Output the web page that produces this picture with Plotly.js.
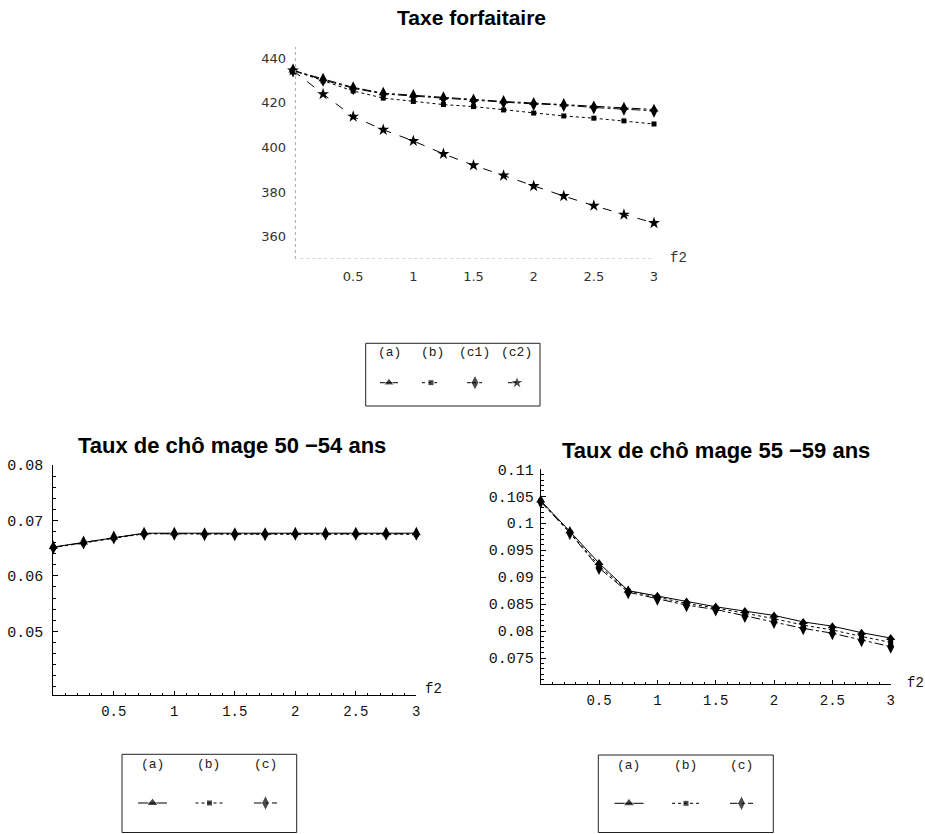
<!DOCTYPE html>
<html>
<head>
<meta charset="utf-8">
<script src="https://cdn.plot.ly/plotly-3.0.1.min.js"></script>
<style>html,body{margin:0;padding:0;background:#fff;}#chart{width:925px;height:834px;}</style>
</head>
<body>
<div id="chart"></div>
<script>
// ---------- data ----------
const f2 = [0, 0.25, 0.5, 0.75, 1, 1.25, 1.5, 1.75, 2, 2.25, 2.5, 2.75, 3];

// Taxe forfaitaire
const taxeA  = [434.5, 430.6, 426.9, 424.3, 423.3, 422.3, 421.4, 420.6, 419.9, 419.2, 418.5, 417.8, 417.0];
const taxeB  = [434.5, 429.8, 425.3, 422.1, 420.6, 419.2, 418.3, 416.8, 415.4, 414.1, 413.1, 411.9, 410.5];
const taxeC1 = [434.5, 430.3, 426.5, 424.0, 423.0, 422.0, 421.0, 420.3, 419.5, 419.0, 417.9, 417.3, 416.4];
const taxeC2 = [434.5, 423.9, 413.8, 407.9, 402.9, 397.1, 392.0, 387.4, 382.7, 378.2, 373.9, 369.9, 366.1];

// Taux de chômage 50-54 ans
const u5054A = [0.0652, 0.0660, 0.0669, 0.0677, 0.0677, 0.0677, 0.0677, 0.0677, 0.0677, 0.0677, 0.0677, 0.0677, 0.0677];
const u5054B = [0.0651, 0.0659, 0.0668, 0.0676, 0.0676, 0.0675, 0.0675, 0.0675, 0.0675, 0.0675, 0.0675, 0.0675, 0.0675];
const u5054C = [0.0651, 0.0660, 0.0669, 0.0676, 0.0676, 0.0675, 0.0675, 0.0675, 0.0676, 0.0676, 0.0676, 0.0676, 0.0676];

// Taux de chômage 55-59 ans
const u5559A = [0.1042, 0.0985, 0.0926, 0.0875, 0.0865, 0.0855, 0.0845, 0.0837, 0.0829, 0.0817, 0.0809, 0.0797, 0.0787];
const u5559B = [0.1041, 0.0983, 0.0921, 0.0874, 0.0863, 0.0851, 0.0843, 0.0833, 0.0823, 0.0811, 0.0802, 0.0790, 0.0779];
const u5559C = [0.1040, 0.0982, 0.0917, 0.0872, 0.0860, 0.0848, 0.0840, 0.0828, 0.0817, 0.0805, 0.0796, 0.0783, 0.0771];

// tick labels
const xTicks = [0.5, 1, 1.5, 2, 2.5, 3];
const xTickText = ['0.5', '1', '1.5', '2', '2.5', '3'];
const taxeTicks = [360, 380, 400, 420, 440];
const u5054Ticks = [0.05, 0.06, 0.07, 0.08];
const u5054TickText = ['0.05', '0.06', '0.07', '0.08'];
const u5559Ticks = [0.075, 0.08, 0.085, 0.09, 0.095, 0.1, 0.105, 0.11];
const u5559TickText = ['0.075', '0.08', '0.085', '0.09', '0.095', '0.1', '0.105', '0.11'];

const legendTop = ['(a)', '(b)', '(c1)', '(c2)'];
const legendBottom = ['(a)', '(b)', '(c)'];

// ---------- helpers ----------
const W = 925, H = 834;
const px = v => v / W;
const py = v => 1 - v / H;
const K = '#000';
const mono = 'Liberation Mono, Courier New, monospace';
const sans = 'Liberation Sans, Arial, sans-serif';

const stA  = {dash: 'solid', sym: 'triangle-up', size: 8};
const stB  = {dash: 'dot', sym: 'square', size: 5};
const stC  = {dash: 'dashdot', sym: 'diamond-tall', size: 10};
const stC2 = {dash: 'dash', sym: 'star', size: 9};

function series(y, st, xa, ya, dashOverride, size) {
  return {
    x: f2, y: y, xaxis: xa, yaxis: ya, type: 'scatter', mode: 'lines+markers',
    line: {color: K, width: 1, dash: dashOverride || st.dash},
    marker: {symbol: st.sym, size: size || st.size, color: K},
    cliponaxis: false, showlegend: false, hoverinfo: 'x+y'
  };
}

const traces = [
  series(taxeB, stB, 'x', 'y'),
  series(taxeA, stA, 'x', 'y', 'dashdot'),
  series(taxeC1, stC, 'x', 'y'),
  series(taxeC2, stC2, 'x', 'y'),

  series(u5054B, stB, 'x2', 'y2'),
  series(u5054C, stC, 'x2', 'y2', null, 10),
  series(u5054A, stA, 'x2', 'y2'),

  series(u5559B, stB, 'x3', 'y3'),
  series(u5559C, stC, 'x3', 'y3', null, 10),
  series(u5559A, stA, 'x3', 'y3')
];

// legend samples on an overlay pixel axis
function sample(cx, cy, half, st, size) {
  return {
    x: [cx - half, cx, cx + half], y: [cy, cy, cy], xaxis: 'x4', yaxis: 'y4',
    type: 'scatter', mode: 'lines+markers',
    line: {color: K, width: 1, dash: st.dash},
    marker: {symbol: st.sym, size: [0, size, 0], color: K},
    showlegend: false, hoverinfo: 'skip', cliponaxis: false
  };
}
traces.push(sample(389, 382.7, 9, stA, 9));
traces.push(sample(431, 382.7, 9, stB, 6));
traces.push(sample(475, 382.7, 8, stC, 11));
traces.push(sample(517, 382.7, 9, stC2, 10));

traces.push(sample(152.5, 803, 14.5, stA, 10));
traces.push(sample(209.5, 803, 14, stB, 6));
traces.push(sample(265.5, 803, 11.5, stC, 11));

traces.push(sample(629, 803.3, 14.5, stA, 10));
traces.push(sample(686, 803.3, 14, stB, 6));
traces.push(sample(741.5, 803.3, 11.5, stC, 11));

// ---------- layout ----------
const botTickFont = {family: mono, size: 14, color: '#111'};
const botYFont = {family: mono, size: 15, color: '#111'};

const layout = {
  width: W, height: H,
  margin: {l: 0, r: 0, t: 0, b: 0},
  paper_bgcolor: '#fff', plot_bgcolor: 'rgba(0,0,0,0)',
  showlegend: false,
  xaxis: {
    domain: [px(293), px(654)], range: [0, 3], anchor: 'y',
    showgrid: false, zeroline: false, showline: false, ticks: '',
    tickmode: 'array', tickvals: xTicks, ticktext: xTickText,
    tickfont: {family: 'DejaVu Sans, sans-serif', size: 13, color: '#333'},
    ticklabelstandoff: 8
  },
  yaxis: {
    domain: [py(259), py(47)], range: [350, 445], anchor: 'x',
    showgrid: false, zeroline: false, showline: false, ticks: '',
    tickmode: 'array', tickvals: taxeTicks,
    tickfont: {family: 'DejaVu Sans, sans-serif', size: 13, color: '#333'},
    ticklabelstandoff: 6
  },
  xaxis2: {
    domain: [px(53.3), px(416.3)], range: [0, 3], anchor: 'y2',
    showgrid: false, zeroline: false, showline: true, linecolor: K, linewidth: 1,
    ticks: 'inside', ticklen: 4, tickcolor: K,
    tickmode: 'array', tickvals: [0].concat(xTicks), ticktext: [''].concat(xTickText),
    minor: {ticks: 'inside', ticklen: 2, dtick: 0.1, tick0: 0, tickcolor: K},
    tickfont: botTickFont, ticklabelstandoff: 3
  },
  yaxis2: {
    domain: [py(695.3), py(465)], range: [0.03845, 0.08], anchor: 'x2',
    showgrid: false, zeroline: false, showline: true, linecolor: K, linewidth: 1,
    ticks: 'inside', ticklen: 5, tickcolor: K,
    tickmode: 'array', tickvals: u5054Ticks, ticktext: u5054TickText,
    minor: {ticks: 'inside', ticklen: 3, dtick: 0.002, tick0: 0, tickcolor: K},
    tickfont: botYFont, ticklabelstandoff: 6
  },
  xaxis3: {
    domain: [px(540.7), px(890.7)], range: [0, 3], anchor: 'y3',
    showgrid: false, zeroline: false, showline: true, linecolor: K, linewidth: 1,
    ticks: 'inside', ticklen: 4, tickcolor: K,
    tickmode: 'array', tickvals: [0].concat(xTicks), ticktext: [''].concat(xTickText),
    minor: {ticks: 'inside', ticklen: 2, dtick: 0.1, tick0: 0, tickcolor: K},
    tickfont: botTickFont, ticklabelstandoff: 3
  },
  yaxis3: {
    domain: [py(684), py(468.5)], range: [0.07018, 0.11015], anchor: 'x3',
    showgrid: false, zeroline: false, showline: true, linecolor: K, linewidth: 1,
    ticks: 'inside', ticklen: 5, tickcolor: K,
    tickmode: 'array', tickvals: u5559Ticks, ticktext: u5559TickText,
    minor: {ticks: 'inside', ticklen: 3, dtick: 0.001, tick0: 0, tickcolor: K},
    tickfont: botYFont, ticklabelstandoff: 3
  },
  xaxis4: {domain: [0, 1], range: [0, W], anchor: 'y4', visible: false, fixedrange: true},
  yaxis4: {domain: [0, 1], range: [H, 0], anchor: 'x4', visible: false, fixedrange: true},
  shapes: [
    // dotted axes of the top chart
    {type: 'line', xref: 'x', yref: 'y', x0: 0.06, x1: 3, y0: 350, y1: 350,
     line: {color: '#aaa', width: 1, dash: 'dot'}},
    {type: 'line', xref: 'x', yref: 'y', x0: 0.02, x1: 0.02, y0: 350, y1: 445,
     line: {color: '#aaa', width: 1, dash: 'dot'}},
    // legend boxes
    {type: 'rect', xref: 'paper', yref: 'paper', x0: px(365.7), x1: px(540), y0: py(406), y1: py(343.3),
     line: {color: '#222', width: 1}},
    {type: 'rect', xref: 'paper', yref: 'paper', x0: px(122), x1: px(296.7), y0: py(832.5), y1: py(754.3),
     line: {color: '#222', width: 1}},
    {type: 'rect', xref: 'paper', yref: 'paper', x0: px(598.3), x1: px(773.3), y0: py(832.5), y1: py(755),
     line: {color: '#222', width: 1}}
  ],
  annotations: []
};

function ann(text, x, y, font, extra) {
  return Object.assign({
    text: text, xref: 'paper', yref: 'paper', x: px(x), y: py(y),
    xanchor: 'center', yanchor: 'middle', showarrow: false, font: font
  }, extra || {});
}

const titleFont = {family: sans, size: 21, color: '#000', weight: 'bold'};
layout.annotations.push(ann('<b>Taxe forfaitaire</b>', 471, 18, titleFont));
layout.annotations.push(ann('<b>Taux de chô mage 50 −54 ans</b>', 232, 445, {family: sans, size: 22, color: '#000'}));
layout.annotations.push(ann('<b>Taux de chô mage 55 −59 ans</b>', 716, 450, {family: sans, size: 22, color: '#000'}));

layout.annotations.push(ann('f2', 678, 258, {family: mono, size: 14, color: '#333'}));
layout.annotations.push(ann('f2', 433, 689, {family: mono, size: 14, color: '#111'}));
layout.annotations.push(ann('f2', 915, 683, {family: mono, size: 14, color: '#111'}));

const legFont = {family: mono, size: 13, color: '#222'};
[389, 432, 474, 516].forEach((x, i) => layout.annotations.push(ann(legendTop[i], x, 352, legFont)));
[152.5, 208.5, 265.5].forEach((x, i) => layout.annotations.push(ann(legendBottom[i], x, 764.5, legFont)));
[628.5, 685, 741.7].forEach((x, i) => layout.annotations.push(ann(legendBottom[i], x, 765, legFont)));

Plotly.newPlot('chart', traces, layout, {staticPlot: true, displayModeBar: false});
</script>
</body>
</html>
